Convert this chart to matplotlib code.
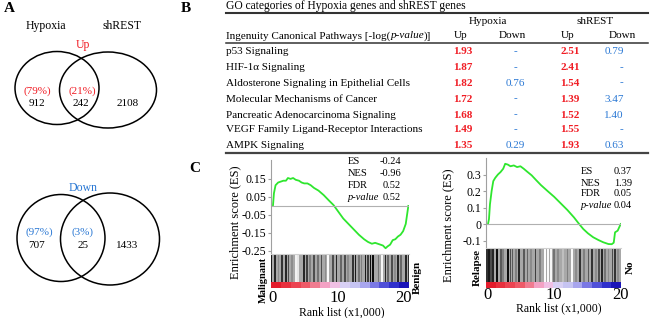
import numpy as np
import matplotlib.pyplot as plt
from matplotlib.patches import Ellipse

plt.rcParams['font.family'] = ['Liberation Serif', 'DejaVu Serif']
plt.rcParams['axes.unicode_minus'] = False

RED = '#f01c24'
BLUE = '#2a78d4'

## Venn data
up_counts = ['912', '242', '2108']
up_pcts = ['(79%)', '(21%)']
down_counts = ['707', '25', '1433']
down_pcts = ['(97%)', '(3%)']

## Table data (-log p-value)
pathways = ['p53 Signaling', 'HIF-1\u03b1 Signaling',
            'Aldosterone Signaling in Epithelial Cells',
            'Molecular Mechanisms of Cancer',
            'Pancreatic Adenocarcinoma Signaling',
            'VEGF Family Ligand-Receptor Interactions', 'AMPK Signaling']
hyp_up = ['1.93', '1.87', '1.82', '1.72', '1.68', '1.49', '1.35']
hyp_down = ['-', '-', '0.76', '-', '-', '-', '0.29']
sh_up = ['2.51', '2.41', '1.54', '1.39', '1.52', '1.55', '1.93']
sh_down = ['0.79', '-', '-', '3.47', '1.40', '-', '0.63']

## GSEA curves (rank in thousands)
left_rank = [0, 0.15, 0.4, 0.8, 1.2, 1.6, 2.0, 2.3, 2.7, 3.1, 3.5, 4.0, 4.4, 4.8,
             5.3, 5.8, 6.3, 7.0, 7.8, 8.6, 9.3, 10.0, 10.8, 11.6, 12.4, 13.2,
             14.0, 14.6, 15.2, 15.7, 16.1, 16.5, 16.9, 17.3, 17.6, 18.0, 18.4,
             18.8, 19.2, 19.6, 20.0, 20.4, 20.8]
left_es = [0.0, 0.07, 0.115, 0.13, 0.135, 0.14, 0.14, 0.155, 0.15, 0.155, 0.145,
           0.14, 0.13, 0.125, 0.125, 0.115, 0.1, 0.085, 0.06, 0.03, 0.005, -0.03,
           -0.07, -0.1, -0.13, -0.16, -0.185, -0.2, -0.21, -0.205, -0.21, -0.215,
           -0.22, -0.235, -0.225, -0.215, -0.19, -0.185, -0.17, -0.16, -0.14,
           -0.1, 0.0]
left_stats = [('ES', '-0.24'), ('NES', '-0.96'), ('FDR', '0.52'), ('p-value', '0.52')]

right_rank = [0, 0.15, 0.3, 0.55, 0.8, 1.1, 1.5, 1.9, 2.3, 2.6, 3.0, 3.4, 3.9,
              4.4, 4.9, 5.4, 5.9, 6.6, 7.3, 8.0, 9.0, 10.0, 11.0, 12.0, 13.0,
              13.7, 14.4, 15.1, 15.9, 16.7, 17.4, 18.2, 18.7, 19.0, 19.2, 19.6,
              20.05]
right_es = [0.0, 0.03, 0.12, 0.2, 0.26, 0.28, 0.3, 0.315, 0.335, 0.365, 0.36,
            0.35, 0.355, 0.345, 0.35, 0.335, 0.318, 0.295, 0.265, 0.236, 0.2,
            0.165, 0.125, 0.085, 0.04, 0.004, -0.03, -0.056, -0.08, -0.097,
            -0.11, -0.121, -0.122, -0.113, -0.05, -0.04, 0.0]
right_stats = [('ES', '0.37'), ('NES', '1.39'), ('FDR', '0.05'), ('p-value', '0.04')]

## barcode hits (rank, gray level)
left_hits = [-0.26, 0.36, 0.87, 1.38, 2.05, 2.41, 2.92, 3.5, 3.9, 4.77, 5.18,
             5.64, 6.3, 6.92, 7.44, 8.05, 8.5, 9.23, 9.74, 10.5, 11.1, 11.5,
             12.3, 12.7, 13.2, 13.6, 14.2, 14.6, 15.0, 15.4, 16.2, 16.7, 17.3,
             17.7, 18.3, 18.7, 19.2, 19.7, 20.4, 20.8]
left_shade = [0.1, 0.15, 0.55, 0.2, 0.15, 0.3, 0.55, 0.95, 0.9, 0.15, 0.25,
              0.5, 0.3, 0.45, 0.3, 0.55, 0.98, 0.3, 0.15, 0.4, 0.3, 0.55,
              0.2, 0.1, 0.45, 0.5, 0.1, 0.25, 0.05, 0.05, 0.45, 0.97, 0.15,
              0.4, 0.3, 0.55, 0.15, 0.4, 0.15, 0.2]
right_hits = [-0.1, 0.15, 0.5, 0.81, 1.31, 1.92, 2.32, 3.03, 3.4, 3.7, 4.19,
              4.7, 5.45, 5.96, 6.46, 7.2, 7.88, 8.6, 9.1, 9.5, 10.0, 10.6,
              11.3, 12.0, 12.7, 13.3, 13.9, 14.5, 15.2, 15.7, 16.3, 16.8, 17.2,
              17.7, 18.2, 18.8, 19.2, 19.6]
right_shade = [0.2, 0.1, 0.3, 0.15, 0.05, 0.35, 0.5, 0.05, 0.3, 0.35, 0.5,
               0.15, 0.35, 0.4, 0.55, 0.25, 0.5, 0.99, 0.98, 0.97, 0.45, 0.55,
               0.75, 0.5, 0.98, 0.55, 0.2, 0.5, 0.35, 0.2, 0.55, 0.3, 0.15,
               0.45, 0.55, 0.3, 0.2, 0.55]
gradient_colors = ['#e41c2c', '#e8303e', '#ec4452', '#ee5a68', '#f07c90',
                   '#f3a2c4', '#f0c0e4', '#d8d0f4', '#c6c4f2', '#a8a6ee',
                   '#7a78e4', '#5050d8', '#3030cc', '#1a14b8']


def box(x0, y0, x1, y1):
    return [x0 / 650, 1 - y1 / 318, (x1 - x0) / 650, (y1 - y0) / 318]


fig = plt.figure(figsize=(6.5, 3.18), dpi=100)


def gsea(x0, x1, y_top, y_es, y_bot, rank, es, ylim, yticks, yticklabels,
         xlim, hits, shades, pad):
    ax = fig.add_axes(box(x0, y_top, x1, y_es))
    ax.plot(rank, es, color='#2ee62e', lw=1.3)
    ax.axhline(0, color='#b0b0b0', lw=0.8)
    ax.set_xlim(*xlim)
    ax.set_ylim(*ylim)
    ax.set_yticks(yticks)
    ax.set_yticklabels(yticklabels, fontsize=8.5)
    ax.set_xticks([])
    for s in ['top', 'right', 'bottom']:
        ax.spines[s].set_visible(False)
    ax.spines['left'].set_color('#a0a0a0')
    ax.spines['left'].set_linewidth(0.8)
    ax.tick_params(axis='y', length=2, color='#a0a0a0', pad=1.5)
    ax.patch.set_alpha(0)

    bx = fig.add_axes(box(x0, y_es, x1, y_bot))
    grad_h = 6.5 / (y_bot - y_es)
    bx.axhspan(grad_h, 1, color='#a8a8a8', lw=0)
    for h, g in zip(hits, shades):
        bx.axvspan(h - 0.13, h + 0.13, ymin=grad_h, ymax=1, color=str(g), lw=0)
    bx.imshow([list(range(len(gradient_colors)))], aspect='auto',
              cmap=plt.matplotlib.colors.ListedColormap(gradient_colors),
              extent=[xlim[0], xlim[1], 0, grad_h], interpolation='nearest')
    bx.set_xlim(*xlim)
    bx.set_ylim(0, 1)
    bx.set_yticks([])
    bx.set_xticks([0, 10, 20])
    bx.set_xticklabels(['0', '10', '20'], fontsize=12)
    bx.tick_params(axis='x', length=0, pad=pad)
    for s in ['left', 'right', 'bottom']:
        bx.spines[s].set_visible(False)
    bx.spines['top'].set_color('#d0d0d0')
    bx.spines['top'].set_linewidth(0.8)
    return ax, bx


gsea(271, 409, 160, 254, 288, left_rank, left_es, (-0.267, 0.255),
     [-0.25, -0.15, -0.05, 0.05, 0.15], ['-0.25', '-0.15', '-0.05', '0.05', '0.15'],
     (-0.3, 20.9), left_hits, left_shade, 1.5)
gsea(486, 621, 158, 248, 288, right_rank, right_es, (-0.145, 0.4),
     [-0.1, 0, 0.1, 0.2, 0.3], ['-0.1', '0', '0.1', '0.2', '0.3'],
     (-0.3, 20.1), right_hits, right_shade, -1)

## overlay in pixel coordinates
ov = fig.add_axes([0, 0, 1, 1])
ov.set_xlim(0, 650)
ov.set_ylim(318, 0)
ov.axis('off')

def T(x, y, s, **kw):
    kw.setdefault('ha', 'center')
    kw.setdefault('va', 'center')
    kw.setdefault('fontsize', 8)
    return ov.text(x, y, s, **kw)

# panel letters
T(9, 9, 'A', fontsize=11, fontweight='bold')
T(186, 9, 'B', fontsize=11, fontweight='bold')
T(195, 169, 'C', fontsize=11, fontweight='bold')

# Venn Up
T(46, 26, 'Hypoxia', fontsize=8.5)
T(122, 26, 'shREST', fontsize=8.5)
T(83, 45, 'Up', color=RED, fontsize=8.5)
ov.add_patch(Ellipse((57, 88), 84, 73, fill=False, lw=1.1, color='black'))
ov.add_patch(Ellipse((108, 90), 97, 76, fill=False, lw=1.1, color='black'))
T(37, 91, up_pcts[0], color=RED)
T(82, 91, up_pcts[1], color=RED)
T(37, 104, up_counts[0])
T(81, 104, up_counts[1])
T(128, 104, up_counts[2])

# Venn Down
T(83, 188, 'Down', color=BLUE, fontsize=8.5)
ov.add_patch(Ellipse((61, 238), 88, 87, fill=False, lw=1.1, color='black'))
ov.add_patch(Ellipse((110, 239), 99, 92, fill=False, lw=1.1, color='black'))
T(39, 232, down_pcts[0], color=BLUE)
T(83, 232, down_pcts[1], color=BLUE)
T(37, 246, down_counts[0])
T(83, 246, down_counts[1])
T(127, 246, down_counts[2])

# Table
T(226, 6, 'GO categories of Hypoxia genes and shREST genes', ha='left', fontsize=8.3)
ov.plot([226, 648], [13, 13], color='#333333', lw=1.5)
T(488, 21, 'Hypoxia')
T(595, 21, 'shREST')
renderer = fig.canvas.get_renderer()
inv = ov.transData.inverted()
hdr = T(226, 36, 'Ingenuity Canonical Pathways [-log(', ha='left')
x_end = inv.transform((hdr.get_window_extent(renderer).x1, 0))[0]
it = T(x_end, 36, 'p-value', ha='left', style='italic')
x_end2 = inv.transform((it.get_window_extent(renderer).x1, 0))[0]
T(x_end2, 36, ')]', ha='left')
for x, s in zip([461, 512, 568, 622], ['Up', 'Down', 'Up', 'Down']):
    T(x, 36, s)
ov.plot([226, 648], [43, 43], color='#333333', lw=1.1)
row_y = [52, 68, 83, 99, 115, 130, 145]
for i, y in enumerate(row_y):
    T(226, y, pathways[i], ha='left')
    T(463, y, hyp_up[i], color=RED, fontweight='bold')
    T(515, y, hyp_down[i], color=BLUE)
    T(570, y, sh_up[i], color=RED, fontweight='bold')
    T(621 if sh_down[i] == '-' else 614, y, sh_down[i], color=BLUE)
ov.plot([226, 648], [153, 153], color='#444444', lw=1.6)

# GSEA labels
for (lab, val), y in zip(left_stats, [162, 173, 185, 197]):
    T(348, y, lab, ha='left', fontsize=7.5, style='italic' if lab == 'p-value' else 'normal')
    T(401, y, val, ha='right', fontsize=7.5)
for (lab, val), y in zip(right_stats, [171, 183, 194, 205]):
    T(581, y, lab, ha='left', fontsize=7.5, style='italic' if lab == 'p-value' else 'normal')
    T(632, y, val, ha='right', fontsize=7.5)
T(235, 222, 'Enrichment score (ES)', rotation=90, fontsize=9)
T(448, 225, 'Enrichment score (ES)', rotation=90, fontsize=9)
T(263, 280, 'Malignant', rotation=90, fontweight='bold', fontsize=7.5)
T(417, 277, 'Benign', rotation=90, fontweight='bold')
T(477, 267, 'Relapse', rotation=90, fontweight='bold')
T(630, 267, 'No', rotation=90, fontweight='bold')
T(342, 312, 'Rank list (x1,000)', fontsize=8.5)
T(559, 308, 'Rank list (x1,000)', fontsize=8.5)

fig.savefig('out.png', dpi=100)
